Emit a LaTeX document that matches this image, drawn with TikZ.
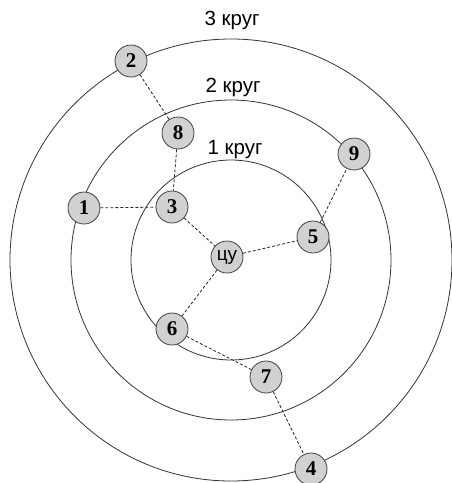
\documentclass[tikz,border=0pt]{standalone}
\usepackage{fontspec}
\setmainfont{Liberation Serif}
\newfontfamily\lsans{Liberation Sans}
\begin{document}
\begin{tikzpicture}[x=1pt,y=-1pt,
  ring/.style={draw=black!80,line width=0.8pt},
  nd/.style={circle,draw=black!75,fill=black!18,line width=0.8pt,minimum size=32pt,inner sep=0pt,font=\fontsize{21}{21}\selectfont\bfseries},
  lnk/.style={draw=black!85,line width=0.8pt,dash pattern=on 3pt off 2pt},
  lbl/.style={font=\lsans\fontsize{20.5}{20.5}\selectfont}]
\useasboundingbox (0,0) rectangle (451,483);
\coordinate (c) at (231,260);
\draw[ring] (c) circle[radius=221];
\draw[ring] (c) circle[radius=160];
\draw[ring] (c) circle[radius=100];
\node[lbl] (l3) at (232,20) {3 круг};
\node[lbl] (l2) at (233,87) {2 круг};
\node[lbl] (l1) at (235,150) {1 круг};
\node[nd] (n2) at (131,61) {2};
\node[nd] (n8) at (178,133) {8};
\node[nd] (n9) at (354,154) {9};
\node[nd] (n1) at (84,208) {1};
\node[nd] (n3) at (172,207) {3};
\node[nd] (n5) at (313,237) {5};
\node[nd,font=\lsans\fontsize{19}{19}\selectfont] (cu) at (227,257) {цу};
\node[nd] (n6) at (172,329) {6};
\node[nd] (n7) at (266,377) {7};
\node[nd] (n4) at (311,469) {4};
\draw[lnk] (n2) -- (n8);
\draw[lnk] (n8) -- (n3);
\draw[lnk] (n1) -- (n3);
\draw[lnk] (n3) -- (cu);
\draw[lnk] (cu) -- (n5);
\draw[lnk] (n5) -- (n9);
\draw[lnk] (cu) -- (n6);
\draw[lnk] (n6) -- (n7);
\draw[lnk] (n7) -- (n4);
\end{tikzpicture}
\end{document}
